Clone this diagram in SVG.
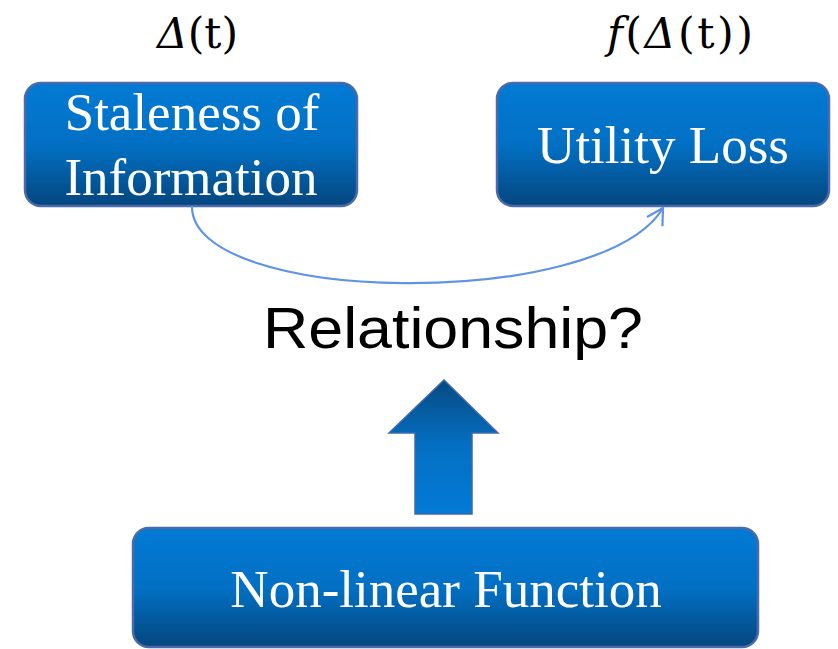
<svg xmlns="http://www.w3.org/2000/svg" width="838" height="649" viewBox="0 0 838 649">
  <defs>
    <linearGradient id="boxFill" x1="0" y1="0" x2="0" y2="1">
      <stop offset="0" stop-color="#027AD4"/>
      <stop offset="0.5" stop-color="#0270C4"/>
      <stop offset="1" stop-color="#04467E"/>
    </linearGradient>
    <linearGradient id="arrowFill" x1="0" y1="0" x2="0" y2="1">
      <stop offset="0" stop-color="#064A82"/>
      <stop offset="0.5" stop-color="#0470C4"/>
      <stop offset="1" stop-color="#037AD6"/>
    </linearGradient>
    <marker id="openHead" viewBox="0 0 20 20" refX="18" refY="10" markerWidth="20" markerHeight="20" markerUnits="userSpaceOnUse" orient="auto">
      <path d="M2,1 L18,10 L2,19" fill="none" stroke="#5F93E3" stroke-width="2.2"/>
    </marker>
  </defs>
  <style>
    .box { fill: url(#boxFill); stroke: #4A6AAA; stroke-width: 2.5; }
    .label { font-family: "Liberation Serif", "Times New Roman", serif; font-size: 53px; fill: #FFFFFF; text-anchor: middle; }
    .math { font-family: "DejaVu Serif", "Liberation Serif", serif; font-size: 43px; fill: #000000; }
    .connector { fill: none; stroke: #5F93E3; stroke-width: 2.2; }
    .title { font-family: "Liberation Sans", Arial, sans-serif; font-size: 57px; fill: #000000; }
  </style>

  <!-- math annotations above the boxes -->
  <text class="math" x="157" y="48" textLength="81" lengthAdjust="spacingAndGlyphs"><tspan font-style="italic">Δ</tspan>(t)</text>
  <text class="math" x="607" y="48" textLength="146" lengthAdjust="spacing"><tspan font-style="italic">f</tspan>(<tspan font-style="italic">Δ</tspan>(t))</text>

  <g id="staleness">
    <rect class="box" x="25" y="83" width="332" height="123" rx="16"/>
    <text class="label" x="192" y="130">Staleness of</text>
    <text class="label" x="191" y="195">Information</text>
  </g>

  <g id="utility-loss">
    <rect class="box" x="497" y="83" width="332" height="123" rx="16"/>
    <text class="label" x="663" y="163">Utility Loss</text>
  </g>

  <g id="non-linear">
    <rect class="box" x="133" y="528" width="625" height="119" rx="16"/>
    <text class="label" x="446" y="607">Non-linear Function</text>
  </g>

  <g id="connectors">
    <path class="connector" d="M192,206 C190,305 600,312 663,208" marker-end="url(#openHead)"/>
    <!-- block arrow pointing up toward the question -->
    <path d="M415,514 L415,433 L389,433 L444,380 L498,433 L472,433 L472,514 Z" fill="url(#arrowFill)" stroke="#3F68AC" stroke-width="1.5"/>
  </g>

  <text class="title" x="263" y="348" textLength="380" lengthAdjust="spacingAndGlyphs">Relationship?</text>
</svg>
